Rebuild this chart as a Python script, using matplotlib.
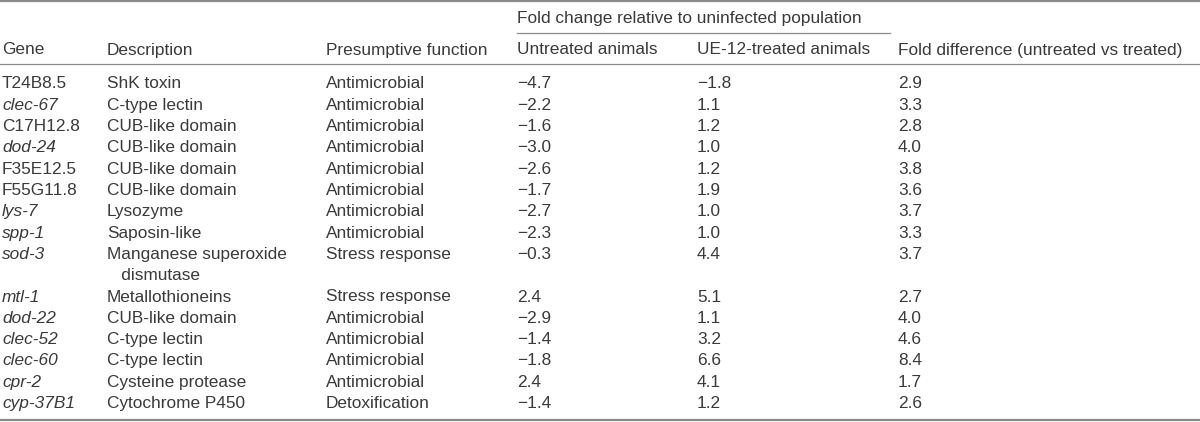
import matplotlib
matplotlib.use("Agg")
import matplotlib.pyplot as plt

# table contents
genes = ["T24B8.5", "clec-67", "C17H12.8", "dod-24", "F35E12.5", "F55G11.8",
         "lys-7", "spp-1", "sod-3", "mtl-1", "dod-22", "clec-52", "clec-60",
         "cpr-2", "cyp-37B1"]
italic_genes = [False, True, False, True, False, False, True, True, True,
                True, True, True, True, True, True]
descriptions = ["ShK toxin", "C-type lectin", "CUB-like domain", "CUB-like domain",
                "CUB-like domain", "CUB-like domain", "Lysozyme", "Saposin-like",
                "Manganese superoxide\n   dismutase", "Metallothioneins",
                "CUB-like domain", "C-type lectin", "C-type lectin",
                "Cysteine protease", "Cytochrome P450"]
functions = ["Antimicrobial"] * 8 + ["Stress response", "Stress response"] + \
            ["Antimicrobial"] * 4 + ["Detoxification"]
untreated = [-4.7, -2.2, -1.6, -3.0, -2.6, -1.7, -2.7, -2.3, -0.3, 2.4,
             -2.9, -1.4, -1.8, 2.4, -1.4]
treated = [-1.8, 1.1, 1.2, 1.0, 1.2, 1.9, 1.0, 1.0, 4.4, 5.1, 1.1, 3.2,
           6.6, 4.1, 1.2]
fold_diff = [2.9, 3.3, 2.8, 4.0, 3.8, 3.6, 3.7, 3.3, 3.7, 2.7, 4.0, 4.6,
             8.4, 1.7, 2.6]

headers = ["Gene", "Description", "Presumptive function", "Untreated animals",
           "UE-12-treated animals", "Fold difference (untreated vs treated)"]
span_header = "Fold change relative to uninfected population"

plt.rcParams['font.family'] = ['Liberation Sans', 'DejaVu Sans']

fig = plt.figure(figsize=(12, 4.22), dpi=100)
ax = fig.add_axes([0, 0, 1, 1])
ax.set_xlim(0, 1200)
ax.set_ylim(422, 0)
ax.axis("off")

txt = "#3a3a3a"
rule = "#8a8a8a"
fs = 12.4
col_x = [2, 107, 326, 517, 697, 898]
row_h = 21.3
y0 = 83
base = 5.5  # baseline sits a bit below the row centre


def fmt(v):
    s = f"{abs(v):.1f}"
    return ("\u2212" + s) if v < 0 else s


def cell(x, y, s, **kw):
    ax.text(x, y + base, s, fontsize=fs, color=txt, va="baseline", **kw)


# rules
ax.plot([0, 1200], [1.2, 1.2], color=rule, lw=1.6)
ax.plot([517, 890], [33, 33], color=rule, lw=0.9)
ax.plot([0, 1200], [64, 64], color=rule, lw=0.9)
ax.plot([0, 1200], [420, 420], color=rule, lw=1.6)

cell(517, 17, span_header)
for x, h in zip(col_x, headers):
    cell(x, 49, h)

line = 0
for i in range(len(genes)):
    y = y0 + line * row_h
    cell(col_x[0], y, genes[i], style="italic" if italic_genes[i] else "normal")
    parts = descriptions[i].split("\n")
    for k, p in enumerate(parts):
        cell(col_x[1], y + k * row_h, p)
    cell(col_x[2], y, functions[i])
    cell(col_x[3], y, fmt(untreated[i]))
    cell(col_x[4], y, fmt(treated[i]))
    cell(col_x[5], y, fmt(fold_diff[i]))
    line += len(parts)

fig.savefig("out.png", dpi=100)
